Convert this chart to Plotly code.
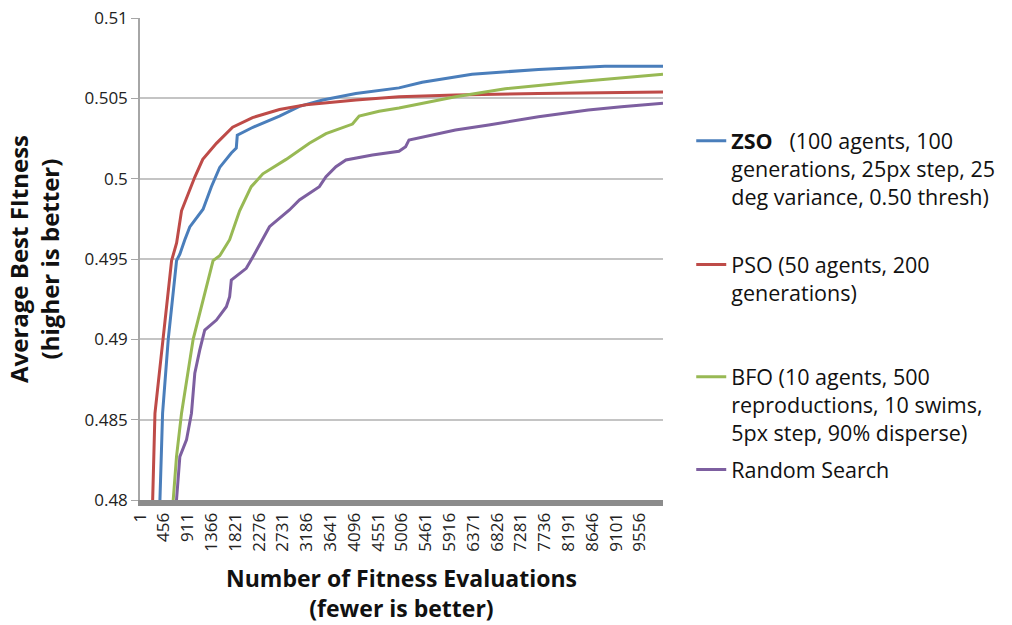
import plotly.graph_objects as go

# ---- data ----
tick_vals = [1, 456, 911, 1366, 1821, 2276, 2731, 3186, 3641, 4096, 4551, 5006,
             5461, 5916, 6371, 6826, 7281, 7736, 8191, 8646, 9101, 9556]
tick_text = [str(v) for v in tick_vals]

zso_x = [330, 381, 432, 540, 699, 762, 857, 952, 1206, 1365, 1524, 1746, 1841, 1860,
         2159, 2667, 3048, 3492, 4127, 4952, 5396, 6349, 7619, 8889, 10000]
zso_y = [0.4778, 0.4800, 0.4854, 0.4900, 0.4949, 0.4953, 0.4962, 0.4970, 0.4981, 0.4995,
         0.5007, 0.5016, 0.5019, 0.5027, 0.5032, 0.5039, 0.5045, 0.5049, 0.5053, 0.50565,
         0.5060, 0.5065, 0.5068, 0.5070, 0.5070]

pso_x = [200, 242, 286, 444, 604, 700, 794, 1048, 1200, 1461, 1771, 2152, 2667, 3175,
         4128, 4952, 6032, 7619, 9524, 10000]
pso_y = [0.4775, 0.4800, 0.4854, 0.4900, 0.4949, 0.4960, 0.4980, 0.5001, 0.5012, 0.5022,
         0.5032, 0.5038, 0.5043, 0.5046, 0.5049, 0.5051, 0.5052, 0.5053, 0.5054, 0.5054]

bfo_x = [600, 635, 698, 794, 1016, 1206, 1397, 1524, 1714, 1905, 2127, 2349, 2794, 3238,
         3556, 4063, 4190, 4571, 4952, 6032, 6984, 8254, 10000]
bfo_y = [0.4778, 0.4800, 0.4827, 0.4854, 0.4900, 0.49245, 0.4949, 0.4952, 0.4962, 0.4980,
         0.4995, 0.5003, 0.5012, 0.5022, 0.5028, 0.5034, 0.5039, 0.5042, 0.5044, 0.5051,
         0.5056, 0.5060, 0.5065]

rnd_x = [670, 698, 762, 889, 984, 1048, 1143, 1238, 1461, 1651, 1714, 1746, 2032, 2160,
         2476, 2857, 3048, 3429, 3556, 3746, 3937, 4444, 4952, 5079, 5143, 6032, 6667,
         7619, 8571, 9206, 10000]
rnd_y = [0.4778, 0.4800, 0.4827, 0.48374, 0.4854, 0.48789, 0.48934, 0.49058, 0.4912,
         0.49203, 0.49265, 0.49369, 0.49442, 0.49514, 0.49701, 0.49805, 0.49867, 0.4995,
         0.50012, 0.50074, 0.50116, 0.50147, 0.50170, 0.50199, 0.50241, 0.50303, 0.50334,
         0.50386, 0.50427, 0.50448, 0.50469]

names = [
    "<b>ZSO</b>\u00a0\u00a0\u00a0(100 agents, 100<br>generations, 25px step, 25<br>deg variance, 0.50 thresh)",
    "PSO (50 agents, 200<br>generations)",
    "BFO (10 agents, 500<br>reproductions, 10 swims,<br>5px step, 90% disperse)",
    "Random Search",
]
colors = ["#4a7ebb", "#be4b48", "#98b954", "#7d5fa0"]
series = [(zso_x, zso_y), (pso_x, pso_y), (bfo_x, bfo_y), (rnd_x, rnd_y)]
legend_ids = ["legend", "legend2", "legend3", "legend4"]
legend_tops = [0.788, 0.531, 0.298, 0.106]

FONT = "Open Sans"

fig = go.Figure()
for (xs, ys), nm, col, lg in zip(series, names, colors, legend_ids):
    fig.add_trace(go.Scatter(x=xs, y=ys, mode="lines", name=nm,
                             line=dict(color=col, width=3), legend=lg))

legend_common = dict(x=1.054, xanchor="left", yanchor="top", valign="top",
                     font=dict(family=FONT, size=21.5, color="#111111"),
                     bgcolor="rgba(0,0,0,0)", itemwidth=30)
layout_legends = {}
for lg, top in zip(legend_ids, legend_tops):
    layout_legends[lg] = dict(legend_common, y=top)

fig.update_layout(
    width=1012, height=625,
    margin=dict(l=140, r=347, t=18, b=125),
    paper_bgcolor="white", plot_bgcolor="white",
    showlegend=True,
    font=dict(family=FONT, color="#222222"),
    xaxis=dict(
        range=[0, 10000], tickmode="array", tickvals=tick_vals, ticktext=tick_text,
        tickangle=-90, tickfont=dict(family=FONT, size=17, color="#222222"),
        showgrid=False, zeroline=False, showline=True, linewidth=6, linecolor="#8c8c8c",
        ticks="", automargin=False,
        title=dict(text="<b>Number of Fitness Evaluations<br>(fewer is better)</b>",
                   font=dict(family=FONT, size=23, color="#111111"), standoff=22),
    ),
    yaxis=dict(
        range=[0.48, 0.51], tickmode="array",
        tickvals=[0.48, 0.485, 0.49, 0.495, 0.5, 0.505, 0.51],
        ticktext=["0.48", "0.485", "0.49", "0.495", "0.5", "0.505", "0.51"],
        tickfont=dict(family=FONT, size=17, color="#222222"),
        showgrid=True, gridcolor="#c4c4c4", gridwidth=1.5, zeroline=False,
        showline=True, linewidth=1.5, linecolor="#a6a6a6",
        ticks="outside", ticklen=7, tickcolor="#a6a6a6", automargin=False,
        title=dict(text="<b>Average Best FItness<br>(higher is better)</b>",
                   font=dict(family=FONT, size=24, color="#111111"), standoff=18),
    ),
    **layout_legends,
)

fig.write_html("out.html")
